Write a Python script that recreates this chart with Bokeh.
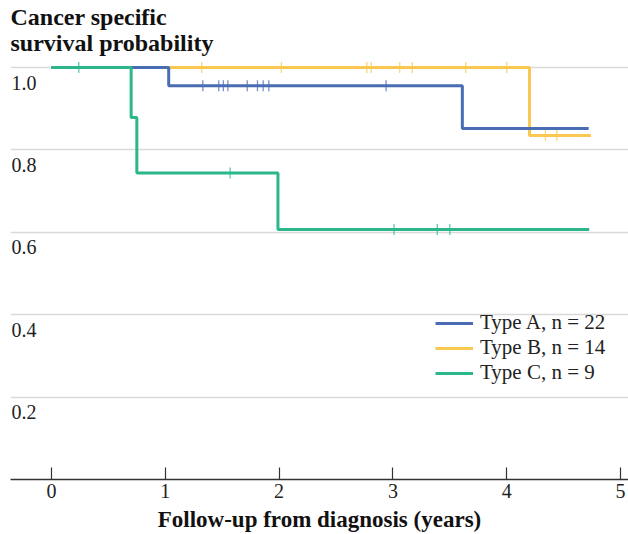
from bokeh.plotting import figure
from bokeh.models import Range1d, FixedTicker, Legend, LegendItem
from bokeh.core.properties import value
from bokeh.embed import file_html
from bokeh.resources import INLINE

# ---- data ----
x_ticks = [0, 1, 2, 3, 4, 5]
y_ticks = [0.2, 0.4, 0.6, 0.8, 1.0]
y_tick_labels = ["0.2", "0.4", "0.6", "0.8", "1.0"]

series_names = ["Type A, n = 22", "Type B, n = 14", "Type C, n = 9"]

a_time = [0.0, 1.03, 3.61, 4.72]
a_surv = [1.0, 0.956, 0.852, 0.852]
a_cens_time = [1.33, 1.47, 1.51, 1.55, 1.72, 1.81, 1.86, 1.91, 2.94]
a_cens_surv = [0.956, 0.956, 0.956, 0.956, 0.956, 0.956, 0.956, 0.956, 0.956]

b_time = [0.0, 4.20, 4.74]
b_surv = [1.0, 0.835, 0.835]
b_cens_time = [1.32, 2.02, 2.77, 2.81, 3.06, 3.17, 3.64, 4.00, 4.34, 4.44]
b_cens_surv = [1.0, 1.0, 1.0, 1.0, 1.0, 1.0, 1.0, 1.0, 0.835, 0.835]

c_time = [0.0, 0.70, 0.75, 1.99, 4.725]
c_surv = [1.0, 0.879, 0.744, 0.607, 0.607]
c_cens_time = [0.24, 1.57, 3.01, 3.39, 3.50]
c_cens_surv = [1.0, 0.744, 0.607, 0.607, 0.607]

colors = ["#4a6cb3", "#f8c851", "#2bb78b"]

SERIF = "Liberation Serif"
X0, X1 = -0.36, 5.07

p = figure(width=628, height=534, output_backend="svg", toolbar_location=None,
           x_range=Range1d(X0, X1), y_range=Range1d(0, 1.027),
           min_border_left=10, min_border_right=0, min_border_top=0, min_border_bottom=0)
p.outline_line_color = None
p.background_fill_color = "white"

p.title.text = "Cancer specific\nsurvival probability"
p.title.text_font = SERIF
p.title.text_font_style = "bold"
p.title.text_font_size = "24px"
p.title.text_color = "#111111"
p.title.align = "left"
p.title.standoff = 2

# axes
p.yaxis.visible = False
p.xaxis.ticker = FixedTicker(ticks=x_ticks)
p.xaxis.minor_tick_line_color = None
p.xaxis.major_tick_in = 12
p.xaxis.major_tick_out = 0
p.xaxis.major_tick_line_color = "#333333"
p.xaxis.major_tick_line_width = 1.2
p.xaxis.axis_line_color = "#333333"
p.xaxis.axis_line_width = 1.5
p.xaxis.major_label_text_font = SERIF
p.xaxis.major_label_text_font_size = "20px"
p.xaxis.major_label_text_color = "#222222"
p.xaxis.major_label_standoff = 4
p.xaxis.axis_label = "Follow-up from diagnosis (years)"
p.xaxis.axis_label_text_font = SERIF
p.xaxis.axis_label_text_font_style = "bold"
p.xaxis.axis_label_text_font_size = "23px"
p.xaxis.axis_label_text_color = "#111111"
p.xaxis.axis_label_standoff = 6

p.xgrid.visible = False
p.ygrid.ticker = FixedTicker(ticks=y_ticks)
p.ygrid.grid_line_color = "#d9d9d9"
p.ygrid.grid_line_width = 1.5

# y tick labels inside the plot, below grid lines
p.text(x=[X0] * len(y_ticks), y=y_ticks, text=y_tick_labels,
       text_font=value(SERIF), text_font_size="20px", text_color="#222222",
       text_baseline="alphabetic", text_align="left", x_offset=1, y_offset=15)

data = [(a_time, a_surv, a_cens_time, a_cens_surv),
        (b_time, b_surv, b_cens_time, b_cens_surv),
        (c_time, c_surv, c_cens_time, c_cens_surv)]
rs = {}
for i in [1, 0, 2]:
    t, s, ct, cs = data[i]
    r = p.step(x=t, y=s, mode="after", line_color=colors[i], line_width=3)
    p.scatter(x=ct, y=cs, marker="cross", size=11, line_color=colors[i],
              line_width=1.3, line_alpha=0.75)
    rs[i] = r

legend = Legend(items=[LegendItem(label=series_names[i], renderers=[rs[i]]) for i in range(3)],
                location=(425, 94))
legend.label_text_font = SERIF
legend.label_text_font_size = "21px"
legend.label_text_color = "#222222"
legend.glyph_width = 38
legend.glyph_height = 20
legend.label_height = 20
legend.label_standoff = 7
legend.spacing = -3
legend.padding = 0
legend.margin = 0
legend.border_line_alpha = 0
legend.background_fill_alpha = 0
p.add_layout(legend)

open("out.html", "w").write(file_html(p, INLINE))
